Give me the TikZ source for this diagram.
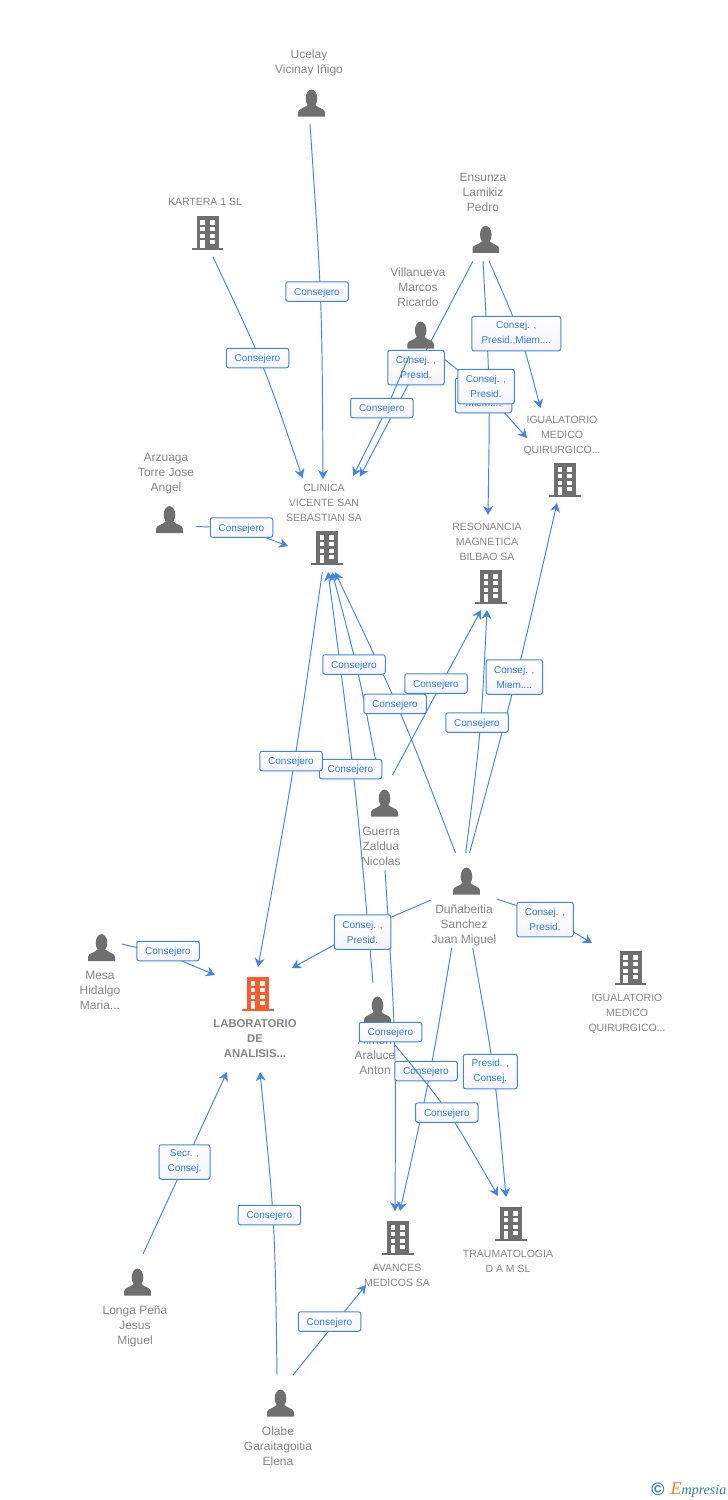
\documentclass[tikz,border=0pt]{standalone}
\usepackage{fontspec}
\setmainfont{Liberation Sans}
\newfontfamily\logofont{Liberation Serif}
\usetikzlibrary{arrows.meta,shadings}
\definecolor{linkblue}{HTML}{3F86E6}
\definecolor{labelblue}{HTML}{2F7BE0}
\definecolor{icongrey}{HTML}{6F6F6F}
\definecolor{textgrey}{HTML}{858585}
\definecolor{mainorange}{HTML}{FF5A2C}
\definecolor{logoteal}{HTML}{2F7F98}
\definecolor{logoorange}{HTML}{F58220}
\pgfdeclarelayer{under}
\pgfsetlayers{under,main}
\tikzset{
  conn/.style={draw=linkblue,line width=0.95pt,-{Stealth[length=9pt,width=10pt,inset=3pt]}},
  rel/.style={draw=linkblue,line width=1pt,rounded corners=2.2pt,top color=white,bottom color=white!93!black!60!blue!10,
    text=labelblue,font=\fontsize{10}{15}\selectfont,align=center,inner sep=0pt,minimum height=19.5pt,minimum width=62.5pt,
    execute at begin node={\rule{0pt}{10pt}}},
  relb/.style={rel,minimum height=34.5pt,minimum width=56.5pt},
  person/.style={text=textgrey,font=\fontsize{12}{15}\selectfont,align=center,inner sep=0pt},
  firm/.style={text=textgrey,font=\fontsize{10.5}{15}\selectfont,align=center,inner sep=0pt},
  mainfirm/.style={text=textgrey,font=\fontsize{11.3}{15}\selectfont\bfseries,align=center,inner sep=0pt},
  pics/bld/.style={code={
    \fill[#1] (-15.8,14.8) rectangle (15.8,17);
    \fill[#1] (-11,-17) rectangle (11,15);
    \foreach \yy in {-12.7,-6.2,0.6}{
      \fill[white] (-7.5,\yy) rectangle (-2.7,\yy+4.2);
      \fill[white] (2.2,\yy) rectangle (7.2,\yy+4.2);}
    \fill[white] (2.2,7) rectangle (7.2,11.3);
    \fill[white] (-7.5,7) rectangle (-2.7,15);
  }},
  pics/man/.style={code={
    \fill[icongrey] (0,-4.6) ellipse (5.8 and 8.8);
    \fill[icongrey] (-13.3,13.5) -- (-13.3,9) .. controls (-13.2,5.5) and (-7,5.5) .. (-4,2)
      -- (4,2) .. controls (7,5.5) and (13.2,5.5) .. (13.3,9) -- (13.3,13.5) -- cycle;
  }}
}
\begin{document}
\begin{tikzpicture}[x=1pt,y=-1pt]
\useasboundingbox (0,0) rectangle (728,1500);
% ---- connector ends
\coordinate (ucelayOut) at (310,124);
\coordinate (karteraOut) at (213,257);
\coordinate (ensunzaOutA) at (473,261);
\coordinate (ensunzaOutB) at (483,261);
\coordinate (ensunzaOutC) at (489,261);
\coordinate (villaOutA) at (409,356);
\coordinate (villaOutB) at (444,359);
\coordinate (arzuagaOut) at (196,526.5);
\coordinate (guerraOutA) at (377.5,770);
\coordinate (guerraOutB) at (392.5,775);
\coordinate (guerraOutC) at (385,870);
\coordinate (dunaOutA) at (455.5,853);
\coordinate (dunaOutB) at (465.7,853);
\coordinate (dunaOutC) at (469.5,853);
\coordinate (dunaOutD) at (497,899);
\coordinate (dunaOutE) at (431,900);
\coordinate (dunaOutF) at (451.7,948);
\coordinate (dunaOutG) at (472.7,948);
\coordinate (araOutA) at (373,983);
\coordinate (araOutB) at (395,1045);
\coordinate (clinicaOut) at (322.3,572);
\coordinate (mesaOut) at (122,944);
\coordinate (longaOut) at (143,1254);
\coordinate (olabeOutA) at (277,1375);
\coordinate (olabeOutB) at (293,1375);
\coordinate (clinicaInA) at (323,479);
\coordinate (clinicaInB) at (302.5,478);
\coordinate (clinicaInC) at (360,476.5);
\coordinate (clinicaInD) at (353,476);
\coordinate (clinicaInE) at (288,546);
\coordinate (clinicaInF) at (332,572);
\coordinate (clinicaInG) at (335,572);
\coordinate (clinicaInH) at (328,572);
\coordinate (iguaUpInA) at (540.5,408);
\coordinate (iguaUpInB) at (527,438);
\coordinate (iguaUpInC) at (557,503);
\coordinate (resoInA) at (488,515);
\coordinate (resoInB) at (481,610);
\coordinate (resoInC) at (487,610);
\coordinate (labInA) at (258,967);
\coordinate (labInB) at (292,968);
\coordinate (labInC) at (215,975);
\coordinate (labInD) at (227,1072);
\coordinate (labInE) at (260,1072);
\coordinate (iguaLowIn) at (592,943);
\coordinate (avancesInA) at (395,1211);
\coordinate (avancesInB) at (400,1211);
\coordinate (avancesInC) at (366,1285);
\coordinate (traumaInA) at (498,1196);
\coordinate (traumaInB) at (506,1197);
% ---- connectors under the labels
\begin{pgfonlayer}{under}
\fill[white] (0,0) rectangle (728,1500);
\draw[conn] (ucelayOut) .. controls (322,301) .. (clinicaInA);
\draw[conn] (karteraOut) .. controls (264,365) .. (clinicaInB);
\draw[conn] (ensunzaOutA) -- (clinicaInC);
\draw[conn] (ensunzaOutC) .. controls (521,334) .. (iguaUpInA);
\draw[conn] (ensunzaOutB) .. controls (490,388) .. (resoInA);
\draw[conn] (villaOutB) .. controls (487,393) .. (iguaUpInB);
\draw[conn] (arzuagaOut) .. controls (240,528) .. (clinicaInE);
\draw[conn] (guerraOutA) .. controls (358,669) .. (clinicaInF);
\draw[conn] (dunaOutA) .. controls (402,713) .. (clinicaInG);
\draw[conn] (araOutA) .. controls (355,778) .. (clinicaInH);
\draw[conn] (clinicaOut) .. controls (294,770) .. (labInA);
\draw[conn] (guerraOutB) -- (resoInB);
\draw[conn] (dunaOutB) .. controls (481,732) .. (resoInC);
\draw[conn] (dunaOutC) .. controls (517,678) .. (iguaUpInC);
\draw[conn] (dunaOutD) .. controls (545,915) .. (iguaLowIn);
\draw[conn] (dunaOutE) .. controls (361,930) .. (labInB);
\draw[conn] (dunaOutF) .. controls (429.5,1080) .. (avancesInB);
\draw[conn] (dunaOutG) .. controls (495,1072) .. (traumaInB);
\draw[conn] (guerraOutC) .. controls (396,1040) .. (avancesInA);
\draw[conn] (mesaOut) .. controls (168,955) .. (labInC);
\draw[conn] (longaOut) -- (labInD);
\draw[conn] (olabeOutA) .. controls (275,1223) .. (labInE);
\draw[conn] (olabeOutB) -- (avancesInC);
\end{pgfonlayer}
% ---- icons
\pic at (311.5,103) {man};
\pic at (485.8,239.3) {man};
\pic at (420.7,335) {man};
\pic at (169.5,519.5) {man};
\pic at (384.5,803) {man};
\pic at (466.5,881) {man};
\pic at (101.5,947.5) {man};
\pic at (377.5,1010) {man};
\pic at (137.5,1282) {man};
\pic at (280.5,1403) {man};
\pic at (207.5,233) {bld=icongrey};
\pic at (565,480) {bld=icongrey};
\pic at (327,548) {bld=icongrey};
\pic at (491,587) {bld=icongrey};
\pic at (630.5,968) {bld=icongrey};
\pic at (258,994) {bld=mainorange};
\pic at (398,1238) {bld=icongrey};
\pic at (511,1224) {bld=icongrey};
% ---- entity texts
\node[person] (ucelay) at (309,63) {Ucelay\\Vicinay Iñigo};
\node[firm] (kartera) at (205,202) {KARTERA 1 SL};
\node[person] (ensunza) at (483,192) {Ensunza\\Lamikiz\\Pedro};
\node[person] (villanueva) at (418,287) {Villanueva\\Marcos\\Ricardo};
\node[firm] (iguaUp) at (562,435.5) {IGUALATORIO\\MEDICO\\QUIRURGICO...};
\node[firm] (clinica) at (324,503) {CLINICA\\VICENTE SAN\\SEBASTIAN SA};
\node[person] (arzuaga) at (166,473.5) {Arzuaga\\Torre Jose\\Angel};
\node[firm] (reso) at (487,541.5) {RESONANCIA\\MAGNETICA\\BILBAO SA};
\node[person] (guerra) at (381,846) {Guerra\\Zaldua\\Nicolas};
\node[person] (duna) at (464,925) {Duñabeitia\\Sanchez\\Juan Miguel};
\node[firm] (iguaLow) at (627,1013.5) {IGUALATORIO\\MEDICO\\QUIRURGICO...};
\node[person] (mesa) at (100,990) {Mesa\\Hidalgo\\Maria...};
\node[mainfirm] (lab) at (255,1039) {LABORATORIO\\DE\\ANALISIS...};
\node[person] (araluce) at (375,1055) {Aimon\\Araluce\\Anton};
\node[firm] (avances) at (397,1275) {AVANCES\\MEDICOS SA};
\node[firm] (trauma) at (508,1261) {TRAUMATOLOGIA\\D A M SL};
\node[person] (longa) at (135,1326) {Longa Peña\\Jesus\\Miguel};
\node[person] (olabe) at (278,1446) {Olabe\\Garaitagoitia\\Elena};
% ---- labels, in stacking order
\node[rel] (lUcelay) at (317,291.5) {Consejero};
\node[rel] (lKartera) at (257.5,358) {Consejero};
\node[relb] (lEnsunzaClinica) at (416,367.5) {Consej. ,\\Presid.};
\draw[conn] (villaOutA) .. controls (384,415) .. (clinicaInD);
\node[rel] (lVillaClinica) at (381.8,408) {Consejero};
\node[relb,minimum width=89pt] (lEnsunzaIgua) at (516.3,333.5) {Consej. ,\\Presid.,Miem....};
\node[relb] (lVillaIgua) at (483.5,395.5) {Consej. ,\\Miem....};
\node[relb] (lEnsunzaReso) at (486,386.5) {Consej. ,\\Presid.};
\node[rel] (lArzuaga) at (241.5,527.5) {Consejero};
\node[rel] (lGuerraClinica) at (354,664.5) {Consejero};
\node[rel] (lDunaClinica) at (395,703.8) {Consejero};
\node[rel] (lGuerraReso) at (436,683.5) {Consejero};
\node[relb] (lDunaIgua) at (514.3,677) {Consej. ,\\Miem....};
\node[rel] (lDunaReso) at (477,722.5) {Consejero};
\node[rel] (lAraClinica) at (350.5,769) {Consejero};
\node[rel] (lClinicaLab) at (291,761) {Consejero};
\node[relb] (lDunaLab) at (362.5,932) {Consej. ,\\Presid.};
\node[relb] (lDunaIguaLow) at (545,919.5) {Consej. ,\\Presid.};
\node[rel] (lMesa) at (168,951) {Consejero};
\node[rel] (lGuerraAvances) at (390.5,1032) {Consejero};
\node[rel] (lDunaAvances) at (426,1071) {Consejero};
\node[relb,minimum width=54pt] (lDunaTrauma) at (490.3,1071.5) {Presid. ,\\Consej.};
\draw[conn] (araOutB) .. controls (448,1109) .. (traumaInA);
\node[rel] (lAraTrauma) at (446.8,1112.5) {Consejero};
\node[relb,minimum width=51pt] (lLonga) at (184.5,1162) {Secr. ,\\Consej.};
\node[rel] (lOlabeLab) at (269.3,1215) {Consejero};
\node[rel] (lOlabeAvances) at (329.5,1321.5) {Consejero};
% ---- logo
\node[inner sep=0pt,text=logoteal,font=\fontsize{18}{18}\selectfont\bfseries] (copyLogo) at (658,1489) {©};
\node[inner sep=0pt,anchor=base west,text=logoteal,font=\logofont\itshape\fontsize{14}{14}\selectfont] (empLogo) at (670.5,1494)
  {{\color{logoorange}\fontsize{18}{18}\selectfont E}mpresia};
\end{tikzpicture}
\end{document}
